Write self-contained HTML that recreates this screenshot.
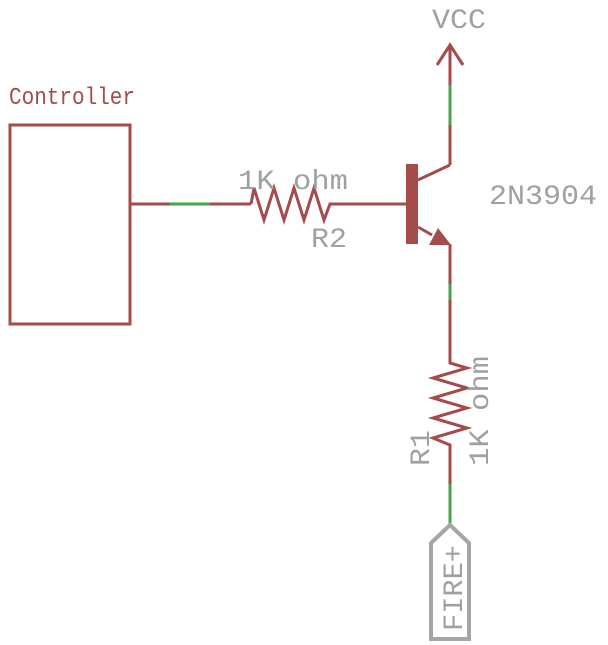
<!DOCTYPE html>
<html><head><style>html,body{margin:0;padding:0;background:#fff}svg{display:block}</style></head>
<body>
<svg width="608" height="645" viewBox="0 0 608 645" xmlns="http://www.w3.org/2000/svg">
<g fill="none" stroke="#a54b4b" stroke-width="3" stroke-linejoin="miter">
<rect x="10" y="125" width="120" height="199"/>
<line x1="130" y1="204" x2="170" y2="204"/>
<line x1="210" y1="204" x2="251" y2="204"/>
<polyline points="251,204 254,188 264,220 274,188 284,220 294,188 304,220 314,188 324,220 330,204 410,204"/>
<line x1="418" y1="180" x2="450" y2="165"/>
<line x1="450" y1="165" x2="450" y2="125"/>
<line x1="450" y1="85" x2="450" y2="45"/>
<polyline points="437,65 450,45 463,65"/>
<line x1="418" y1="227" x2="432" y2="235"/>
<line x1="450" y1="244" x2="450" y2="284"/>
<polyline points="450,300 450,363 467,368 433,378 467,388 433,398 467,408 433,418 467,428 433,438 450,445 450,484"/>
</g>
<rect x="406" y="164" width="12" height="80" fill="#a54b4b"/>
<polygon points="429,245 438,228 451,245" fill="#a54b4b"/>
<g stroke="#4aa34a" stroke-width="3">
<line x1="170" y1="204" x2="210" y2="204"/>
<line x1="450" y1="85" x2="450" y2="125"/>
<line x1="450" y1="284" x2="450" y2="300"/>
<line x1="450" y1="484" x2="450" y2="524"/>
</g>
<polygon points="450,525 431,543 431,639 469,639 469,543" fill="none" stroke="#a5a5a5" stroke-width="4"/>
<g font-family="'Liberation Mono', monospace" fill="#a0a0a0" font-size="28" lengthAdjust="spacingAndGlyphs">
<text x="432" y="28" textLength="54" lengthAdjust="spacingAndGlyphs">VCC</text>
<text x="489" y="204" textLength="108" lengthAdjust="spacingAndGlyphs">2N3904</text>
<text x="238" y="189" textLength="110" lengthAdjust="spacingAndGlyphs">1K ohm</text>
<text x="311" y="247" textLength="36" lengthAdjust="spacingAndGlyphs">R2</text>
<text transform="translate(429,466) rotate(-90)" textLength="36" lengthAdjust="spacingAndGlyphs">R1</text>
<text transform="translate(488,466) rotate(-90)" textLength="110" lengthAdjust="spacingAndGlyphs">1K ohm</text>
<text transform="translate(462,631) rotate(-90)" textLength="86" lengthAdjust="spacingAndGlyphs">FIRE+</text>
</g>
<text x="9" y="104" font-family="'Liberation Mono', monospace" font-size="24" fill="#a54b4b" textLength="126" lengthAdjust="spacingAndGlyphs">Controller</text>
</svg>
</body></html>
